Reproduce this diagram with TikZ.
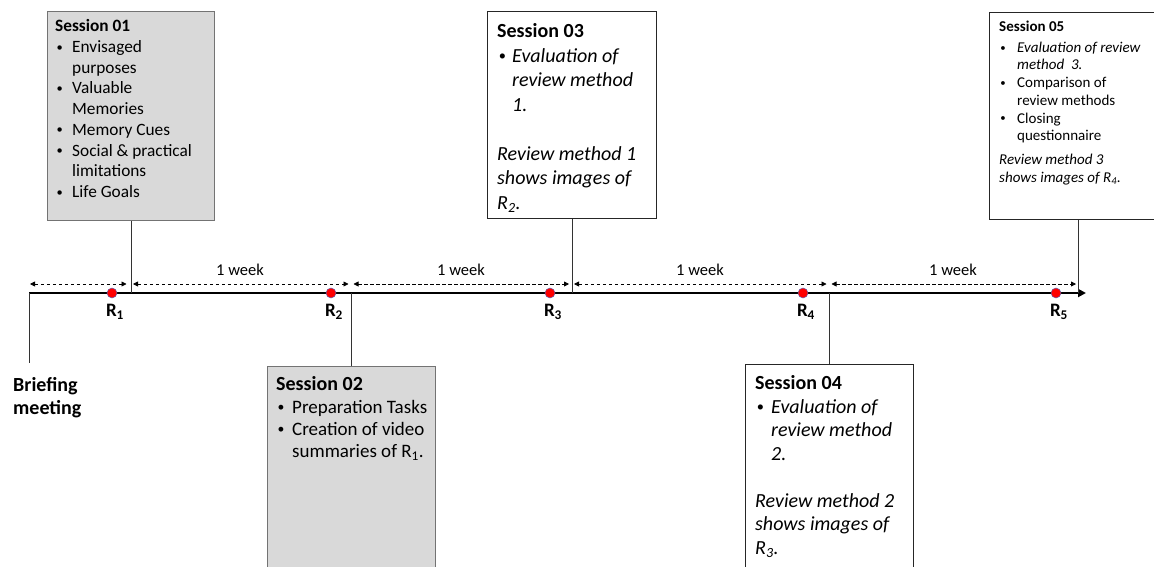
\documentclass[tikz,border=0pt]{standalone}
\usepackage{fontspec}
\usepackage{graphicx}
\setmainfont{Carlito}
\usetikzlibrary{arrows.meta}
\newcommand\bux[1]{\makebox[#1][l]{\hspace{0.08em}\raisebox{0.08em}{\scalebox{0.72}{\textbullet}}}}
\newcommand\ind[1]{\hspace*{#1}}
\begin{document}
\begin{tikzpicture}[x=1pt,y=-1pt,
  graybox/.style={draw=black!55,line width=1.2pt,fill=black!15,inner sep=0pt,anchor=north west},
  whitebox/.style={draw=black!85,line width=0.9pt,fill=white,inner sep=0pt,anchor=north west},
  txt/.style={anchor=north west,inner sep=0pt,align=left},
  conn/.style={draw=black!80,line width=0.9pt},
  timeline/.style={line width=2.4pt,-{Triangle[length=8pt,width=8pt]}},
  dim/.style={line width=0.8pt,dash pattern=on 3.5pt off 2.5pt,{Triangle[length=5pt,width=5pt]}-{Triangle[length=5pt,width=5pt]}},
  wk/.style={font=\fontsize{16.5}{19}\selectfont,inner sep=0pt},
  rdot/.style={circle,fill=red,draw=blue!50!black!60,line width=0.5pt,minimum size=10pt,inner sep=0pt},
  rlab/.style={font=\fontsize{19}{22}\selectfont\bfseries,inner sep=0pt}
]
\useasboundingbox (0,0) rectangle (1154,567);
\clip (0,0) rectangle (1154,567);

% boxes
\node[graybox,minimum width=167,minimum height=209] (s1) at (47,11) {};
\node[graybox,minimum width=168,minimum height=215] (s2) at (267,366) {};
\node[whitebox,minimum width=169,minimum height=207] (s3) at (487,11) {};
\node[whitebox,minimum width=168,minimum height=215] (s4) at (745,364) {};
\node[whitebox,minimum width=165,minimum height=207] (s5) at (989,12) {};

% box texts
\node[txt,font=\fontsize{17.3}{20.7}\selectfont] (s1t) at (55,19.5) {%
\textbf{Session 01}\\
\bux{17pt}Envisaged\\
\ind{17pt}purposes\\
\bux{17pt}Valuable\\
\ind{17pt}Memories\\
\bux{17pt}Memory Cues\\
\bux{17pt}Social \& practical\\
\ind{17pt}limitations\\
\bux{17pt}Life Goals};

\node[txt,font=\fontsize{19}{22.3}\selectfont] (s2t) at (276,376.5) {%
{\fontsize{20}{22.3}\selectfont\textbf{Session 02}}\\
\bux{16pt}Preparation Tasks\\
\bux{16pt}Creation of video\\
\ind{16pt}summaries of R\textsubscript{1}.};

\node[txt,font=\fontsize{20}{24.5}\selectfont] (s3t) at (497,23.5) {%
\textbf{Session 03}\\
\bux{15pt}\textit{Evaluation of}\\
\ind{15pt}\textit{review method}\\
\ind{15pt}\textit{1.}\\[24.5pt]
\textit{Review method 1}\\
\textit{shows images of}\\
\textit{R\textsubscript{2}.}};

\node[txt,font=\fontsize{20}{23.5}\selectfont] (s4t) at (755,375.5) {%
\textbf{Session 04}\\
\bux{16pt}\textit{Evaluation of}\\
\ind{16pt}\textit{review method}\\
\ind{16pt}\textit{2.}\\[23.5pt]
\textit{Review method 2}\\
\textit{shows images of}\\
\textit{R\textsubscript{3}.}};

\node[txt,font=\fontsize{15}{17.7}\selectfont] (s5t) at (999,20.3) {%
\textbf{Session 05}\\[3.5pt]
\bux{18pt}\textit{Evaluation of review}\\
\ind{18pt}\textit{method\ \ 3.}\\
\bux{18pt}Comparison of\\
\ind{18pt}review methods\\
\bux{18pt}Closing\\
\ind{18pt}questionnaire\\[6.5pt]
\textit{Review method 3}\\
\textit{shows images of R\textsubscript{4}.}};

% timeline
\coordinate (k0) at (29,293);
\coordinate (kE) at (1086,293);
\coordinate (k5) at (1078,293);
\coordinate (b0) at (29,363);
\draw[timeline] (k0) -- (kE);

% connectors
\draw[conn] (s1.south) -- (s1.south |- k0);
\draw[conn] (s2.north) -- (s2.north |- k0);
\draw[conn] (s3.south) -- (s3.south |- k0);
\draw[conn] (s4.north) -- (s4.north |- k0);
\draw[conn] (k5) -- (k5 |- s5.south);
\draw[conn] (k0) -- (b0);

\node[anchor=north west,inner sep=0pt,align=left,font=\fontsize{20}{23}\selectfont\bfseries] (bm) at (13,377) {Briefing\\meeting};

% week spans
\coordinate (d0) at (29,284);
\coordinate (d1) at (130.5,284);
\coordinate (d2) at (351,284);
\coordinate (d3) at (571.5,284);
\coordinate (d4) at (829,284);
\coordinate (d5) at (1078,284);
\draw[dim] ([xshift=1pt]d0) -- ([xshift=-4pt]d1);
\draw[dim] ([xshift=2.5pt]d1) -- ([xshift=-2.5pt]d2);
\draw[dim] ([xshift=2.5pt]d2) -- ([xshift=-2.5pt]d3);
\draw[dim] ([xshift=2.5pt]d3) -- ([xshift=-2.5pt]d4);
\draw[dim] ([xshift=2.5pt]d4) -- ([xshift=-2pt]d5);

\node[wk] (w1) at (240,270) {1 week};
\node[wk] (w2) at (461,270) {1 week};
\node[wk] (w3) at (700,270) {1 week};
\node[wk] (w4) at (953,270) {1 week};

% recordings
\node[rdot] (r1) at (112,293) {};
\node[rdot] (r2) at (331,293) {};
\node[rdot] (r3) at (550,293) {};
\node[rdot] (r4) at (803,293) {};
\node[rdot] (r5) at (1056,293) {};
\node[rlab] (l1) at (115,312) {R\textsubscript{1}};
\node[rlab] (l2) at (334,312) {R\textsubscript{2}};
\node[rlab] (l3) at (553,312) {R\textsubscript{3}};
\node[rlab] (l4) at (806,312) {R\textsubscript{4}};
\node[rlab] (l5) at (1059,312) {R\textsubscript{5}};
\end{tikzpicture}
\end{document}
